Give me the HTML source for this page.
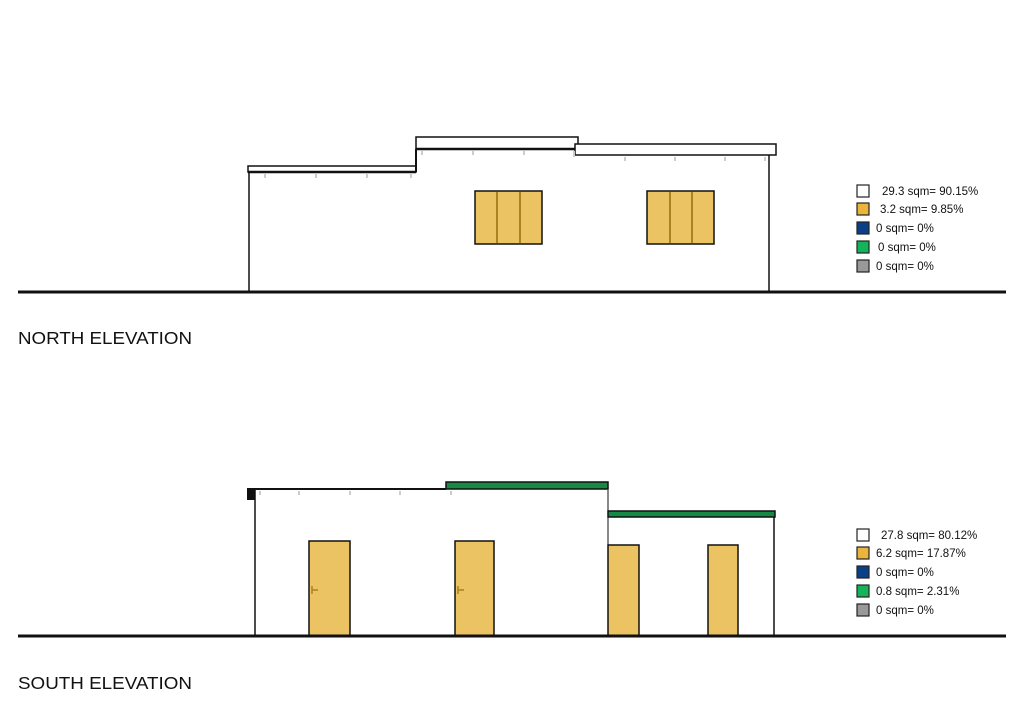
<!DOCTYPE html>
<html><head><meta charset="utf-8"><style>
html,body{margin:0;padding:0;background:#fff;}
svg{display:block;}
text{font-family:"Liberation Sans",sans-serif;fill:#111;}
.lg{font-size:11.5px;}
</style></head><body>
<svg width="1024" height="724" viewBox="0 0 1024 724" xmlns="http://www.w3.org/2000/svg">
<!-- NORTH -->
<g stroke="#111" fill="#fff">
  <rect x="248" y="166" width="168" height="6" stroke-width="1.5"/>
  <line x1="248" y1="172" x2="416" y2="172" stroke-width="2.5"/>
  <rect x="416" y="137" width="162" height="12" stroke-width="1.5"/>
  <line x1="416" y1="149" x2="578" y2="149" stroke-width="2.5"/>
  <line x1="416" y1="149" x2="416" y2="172" stroke-width="2"/>
  <rect x="575" y="144" width="201" height="11" stroke-width="1.5"/>
  <line x1="249" y1="172" x2="249" y2="292" stroke-width="1.5"/>
  <line x1="769" y1="155" x2="769" y2="292" stroke-width="1.5"/>
</g>
<g fill="#ccc">
  <rect x="264" y="174" width="2" height="4"/><rect x="315" y="174" width="2" height="4"/><rect x="366" y="174" width="2" height="4"/><rect x="410" y="174" width="2" height="4"/>
  <rect x="421" y="151" width="2" height="4"/><rect x="472" y="151" width="2" height="4"/><rect x="523" y="151" width="2" height="4"/><rect x="573" y="151" width="2" height="6"/>
  <rect x="624" y="157" width="2" height="4"/><rect x="674" y="157" width="2" height="4"/><rect x="724" y="157" width="2" height="4"/><rect x="764" y="157" width="2" height="4"/>
</g>
<g stroke="#111" stroke-width="1.5" fill="#ecc362">
  <rect x="475" y="191" width="67" height="53"/>
  <rect x="647" y="191" width="67" height="53"/>
</g>
<g stroke="#a8831f" stroke-width="2">
  <line x1="497" y1="192" x2="497" y2="243"/><line x1="520" y1="192" x2="520" y2="243"/>
  <line x1="670" y1="192" x2="670" y2="243"/><line x1="692" y1="192" x2="692" y2="243"/>
</g>
<line x1="18" y1="292" x2="1006" y2="292" stroke="#111" stroke-width="3"/>
<text x="18" y="344" font-size="17.5" textLength="174" lengthAdjust="spacingAndGlyphs">NORTH ELEVATION</text>

<!-- NORTH legend -->
<g stroke="#222" stroke-width="1.2">
  <rect x="857" y="185" width="12" height="12" fill="#fff"/>
  <rect x="857" y="203" width="12" height="12" fill="#e9b53c"/>
  <rect x="857" y="222" width="12" height="12" fill="#0b3f86"/>
  <rect x="857" y="241" width="12" height="12" fill="#14b45a"/>
  <rect x="857" y="260" width="12" height="12" fill="#999"/>
</g>
<text class="lg" x="882" y="195">29.3 sqm= 90.15%</text>
<text class="lg" x="880" y="213">3.2 sqm= 9.85%</text>
<text class="lg" x="876" y="232">0 sqm= 0%</text>
<text class="lg" x="878" y="251">0 sqm= 0%</text>
<text class="lg" x="876" y="270">0 sqm= 0%</text>

<!-- SOUTH -->
<rect x="247" y="489" width="8" height="11" fill="#111"/>
<g stroke="#111" fill="none">
  <line x1="247" y1="489" x2="446" y2="489" stroke-width="2"/>
  <line x1="255" y1="489" x2="255" y2="636" stroke-width="1.5"/>
  <line x1="608" y1="490" x2="608" y2="636" stroke-width="1"/>
  <line x1="774" y1="516" x2="774" y2="636" stroke-width="1.5"/>
</g>
<rect x="446" y="482" width="162" height="7" fill="#148a45" stroke="#111" stroke-width="1.5"/>
<rect x="608" y="511" width="167" height="6" fill="#148a45" stroke="#111" stroke-width="1.5"/>
<g fill="#ccc">
  <rect x="259" y="491" width="2" height="4"/><rect x="298" y="491" width="2" height="4"/><rect x="349" y="491" width="2" height="4"/><rect x="399" y="491" width="2" height="4"/><rect x="450" y="491" width="2" height="4"/>
</g>
<g stroke="#111" stroke-width="1.5" fill="#ecc362">
  <rect x="309" y="541" width="41" height="95"/>
  <rect x="455" y="541" width="39" height="95"/>
  <rect x="608" y="545" width="31" height="91"/>
  <rect x="708" y="545" width="30" height="91"/>
</g>
<g stroke="#a8831f" stroke-width="1.5">
  <line x1="312" y1="586" x2="312" y2="594"/><line x1="312" y1="590" x2="318" y2="590"/>
  <line x1="458" y1="586" x2="458" y2="594"/><line x1="458" y1="590" x2="464" y2="590"/>
</g>
<line x1="18" y1="636" x2="1006" y2="636" stroke="#111" stroke-width="3"/>
<text x="18" y="689" font-size="17.5" textLength="174" lengthAdjust="spacingAndGlyphs">SOUTH ELEVATION</text>

<!-- SOUTH legend -->
<g stroke="#222" stroke-width="1.2">
  <rect x="857" y="529" width="12" height="12" fill="#fff"/>
  <rect x="857" y="547" width="12" height="12" fill="#e9b53c"/>
  <rect x="857" y="566" width="12" height="12" fill="#0b3f86"/>
  <rect x="857" y="585" width="12" height="12" fill="#14b45a"/>
  <rect x="857" y="604" width="12" height="12" fill="#999"/>
</g>
<text class="lg" x="881" y="539">27.8 sqm= 80.12%</text>
<text class="lg" x="876" y="557">6.2 sqm= 17.87%</text>
<text class="lg" x="876" y="576">0 sqm= 0%</text>
<text class="lg" x="876" y="595">0.8 sqm= 2.31%</text>
<text class="lg" x="876" y="614">0 sqm= 0%</text>
</svg>
</body></html>
